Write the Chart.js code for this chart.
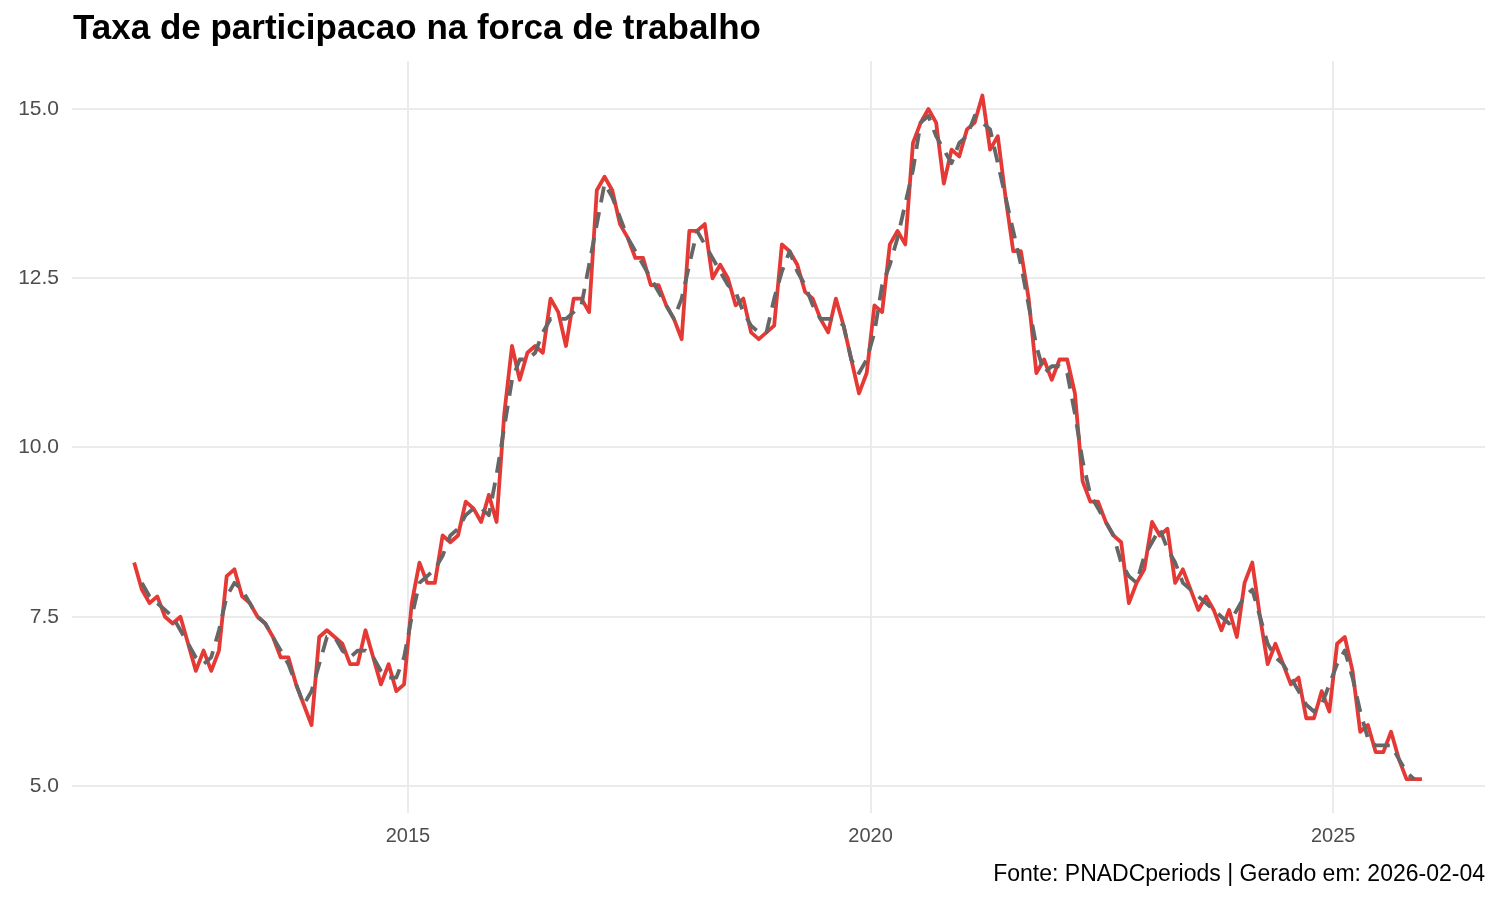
<!DOCTYPE html>
<html lang="pt-BR">
<head>
<meta charset="utf-8">
<title>Taxa de participacao na forca de trabalho</title>
<script src="https://cdn.jsdelivr.net/npm/chart.js@4.4.1/dist/chart.umd.min.js"></script>
<style>
  html, body { margin: 0; padding: 0; background: #ffffff; }
  #wrap { width: 1500px; height: 900px; }
</style>
</head>
<body>
<div id="wrap"><canvas id="grafico" width="1500" height="900"></canvas></div>
<script>
const titulo = 'Taxa de participacao na forca de trabalho';
const rodape = 'Fonte: PNADCperiods | Gerado em: 2026-02-04';

// primeiro mes da serie (jan/2012), um valor por mes ate dez/2025
const anoInicial = 2012;
const mesInicial = 1;

// taxa mensal (linha vermelha)
const taxaMensal = [
  8.3, 7.9, 7.7, 7.8, 7.5, 7.4, 7.5, 7.1, 6.7, 7.0, 6.7, 7.0,          // 2012
  8.1, 8.2, 7.8, 7.7, 7.5, 7.4, 7.2, 6.9, 6.9, 6.5, 6.2, 5.9,          // 2013
  7.2, 7.3, 7.2, 7.1, 6.8, 6.8, 7.3, 6.9, 6.5, 6.8, 6.4, 6.5,          // 2014
  7.7, 8.3, 8.0, 8.0, 8.7, 8.6, 8.7, 9.2, 9.1, 8.9, 9.3, 8.9,          // 2015
  10.5, 11.5, 11.0, 11.4, 11.5, 11.4, 12.2, 12.0, 11.5, 12.2, 12.2, 12.0, // 2016
  13.8, 14.0, 13.8, 13.3, 13.1, 12.8, 12.8, 12.4, 12.4, 12.1, 11.9, 11.6, // 2017
  13.2, 13.2, 13.3, 12.5, 12.7, 12.5, 12.1, 12.2, 11.7, 11.6, 11.7, 11.8, // 2018
  13.0, 12.9, 12.7, 12.3, 12.2, 11.9, 11.7, 12.2, 11.8, 11.3, 10.8, 11.1, // 2019
  12.1, 12.0, 13.0, 13.2, 13.0, 14.5, 14.8, 15.0, 14.8, 13.9, 14.4, 14.3, // 2020
  14.7, 14.8, 15.2, 14.4, 14.6, 13.7, 12.9, 12.9, 12.2, 11.1, 11.3, 11.0, // 2021
  11.3, 11.3, 10.8, 9.5, 9.2, 9.2, 8.9, 8.7, 8.6, 7.7, 8.0, 8.2,       // 2022
  8.9, 8.7, 8.8, 8.0, 8.2, 7.9, 7.6, 7.8, 7.6, 7.3, 7.6, 7.2,          // 2023
  8.0, 8.3, 7.5, 6.8, 7.1, 6.8, 6.5, 6.6, 6.0, 6.0, 6.4, 6.1,          // 2024
  7.1, 7.2, 6.7, 5.8, 5.9, 5.5, 5.5, 5.8, 5.4, 5.1, 5.1, 5.1           // 2025
];

// trimestre movel (linha tracejada cinza)
const taxaTrimestral = [
  null, 8.0, 7.8, 7.7, 7.6, 7.5, 7.3, 7.1, 6.9, 6.8, 6.9, 7.3,         // 2012
  7.8, 8.0, 7.9, 7.7, 7.5, 7.4, 7.2, 7.0, 6.8, 6.5, 6.2, 6.4,          // 2013
  6.8, 7.2, 7.2, 7.0, 6.9, 7.0, 7.0, 6.9, 6.7, 6.6, 6.6, 6.9,          // 2014
  7.5, 8.0, 8.1, 8.2, 8.4, 8.7, 8.8, 9.0, 9.1, 9.1, 9.0, 9.6,          // 2015
  10.3, 11.0, 11.3, 11.3, 11.4, 11.7, 11.9, 11.9, 11.9, 12.0, 12.1, 12.7, // 2016
  13.3, 13.9, 13.7, 13.4, 13.1, 12.9, 12.7, 12.5, 12.3, 12.1, 11.9, 12.2, // 2017
  12.7, 13.2, 13.0, 12.8, 12.6, 12.4, 12.3, 12.0, 11.8, 11.7, 11.7, 12.2, // 2018
  12.6, 12.9, 12.6, 12.4, 12.1, 11.9, 11.9, 11.9, 11.8, 11.3, 11.1, 11.3, // 2019
  11.7, 12.4, 12.7, 13.1, 13.6, 14.1, 14.8, 14.9, 14.6, 14.4, 14.2, 14.5, // 2020
  14.6, 14.9, 14.8, 14.7, 14.2, 13.7, 13.2, 12.7, 12.1, 11.5, 11.1, 11.2, // 2021
  11.2, 11.1, 10.5, 9.8, 9.3, 9.1, 8.9, 8.7, 8.3, 8.1, 8.0, 8.4,       // 2022
  8.6, 8.8, 8.5, 8.3, 8.0, 7.9, 7.8, 7.7, 7.6, 7.5, 7.4, 7.6,          // 2023
  7.8, 7.9, 7.5, 7.1, 6.9, 6.8, 6.6, 6.4, 6.2, 6.1, 6.2, 6.5,          // 2024
  6.8, 7.0, 6.6, 6.1, 5.7, 5.6, 5.6, 5.6, 5.4, 5.2, 5.1, null          // 2025
];

const ticksX = [2015, 2020, 2025];
const ticksY = [5.0, 7.5, 10.0, 12.5, 15.0];

const fonte = '"Liberation Sans", Arial, sans-serif';

// meio de cada mes em anos decimais
function posicaoMes(i) {
  return anoInicial + (mesInicial - 1 + i + 0.5) / 12;
}
const pontos = valores => valores.map((v, i) => ({ x: posicaoMes(i), y: v }));

// titulo e fonte desenhados fora da area do grafico
const textos = {
  id: 'textos',
  afterDraw(chart) {
    const { ctx, chartArea } = chart;
    ctx.save();
    ctx.fillStyle = '#000000';
    ctx.textBaseline = 'alphabetic';
    ctx.textAlign = 'left';
    ctx.font = 'bold 35px ' + fonte;
    ctx.fillText(titulo, chartArea.left + 1, 39);
    ctx.textAlign = 'right';
    ctx.font = '23px ' + fonte;
    ctx.fillText(rodape, chartArea.right, 881);
    ctx.restore();
  }
};

new Chart(document.getElementById('grafico'), {
  type: 'line',
  data: {
    datasets: [
      {
        label: 'Trimestre movel',
        data: pontos(taxaTrimestral),
        borderColor: '#666666',
        borderWidth: 3.8,
        borderDash: [16, 10],
        borderCapStyle: 'butt',
        borderJoinStyle: 'round',
        pointRadius: 0,
        tension: 0,
        spanGaps: false
      },
      {
        label: 'Mensal',
        data: pontos(taxaMensal),
        borderColor: '#E53935',
        borderWidth: 3.8,
        borderJoinStyle: 'round',
        pointRadius: 0,
        tension: 0
      }
    ]
  },
  options: {
    responsive: false,
    animation: false,
    devicePixelRatio: 1,
    layout: { padding: { top: 61, right: 15, bottom: 0, left: 0 } },
    plugins: {
      legend: { display: false },
      tooltip: { enabled: false }
    },
    scales: {
      x: {
        type: 'linear',
        min: 2011.37,
        max: 2026.64,
        afterBuildTicks: s => { s.ticks = ticksX.map(v => ({ value: v })); },
        afterFit: s => { s.height = 87; },
        ticks: {
          callback: v => String(v),
          color: '#4D4D4D',
          font: { family: fonte, size: 20 },
          padding: 11,
          maxRotation: 0,
          autoSkip: false
        },
        grid: { color: '#EBEBEB', lineWidth: 2, drawTicks: false },
        border: { display: false }
      },
      y: {
        min: 4.6,
        max: 15.71,
        afterBuildTicks: s => { s.ticks = ticksY.map(v => ({ value: v })); },
        afterFit: s => { s.width = 72; },
        ticks: {
          callback: v => v.toFixed(1),
          color: '#4D4D4D',
          font: { family: fonte, size: 21 },
          padding: 13
        },
        grid: { color: '#EBEBEB', lineWidth: 2, drawTicks: false },
        border: { display: false }
      }
    }
  },
  plugins: [textos]
});
</script>
</body>
</html>
